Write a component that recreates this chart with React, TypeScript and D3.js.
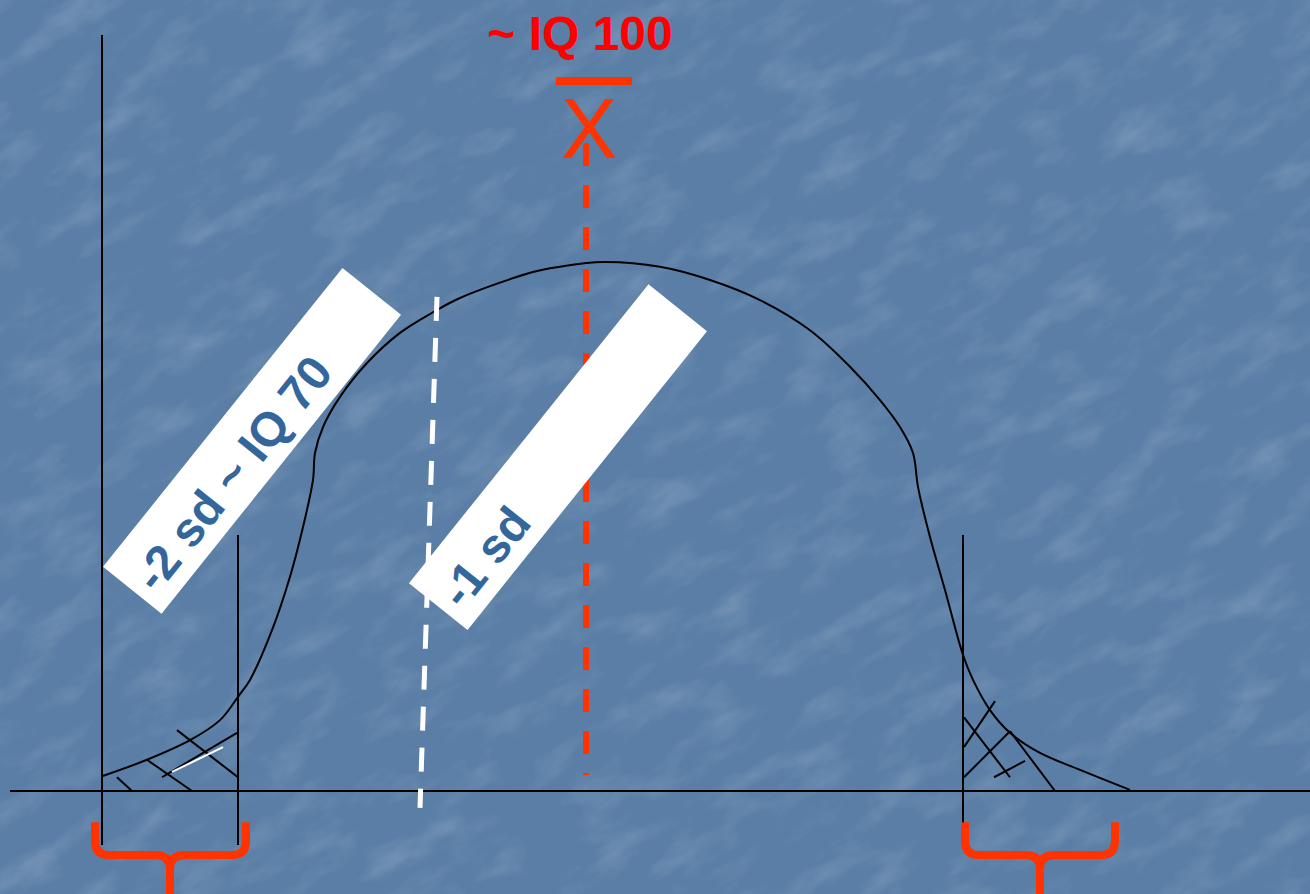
import React from "react";
import * as d3 from "d3";

// ---- data (abstract units: x 0..130 across, y 0..100 baseline→peak) ----
const curveX = [9.2, 13.7, 18.0, 21.0, 22.8, 24.0, 26.2, 28.0, 29.3, 30.3, 30.5, 31.3, 33.0, 35.7, 39.0, 42.3, 45.0, 52.3, 55.0, 59.3, 65.0, 70.0, 75.0, 80.0, 84.0, 87.0, 89.0, 90.3, 90.8, 92.0, 93.5, 95.3, 96.3, 98.0, 100.0, 103.0, 107.0, 112.0];
const curveY = [2.8, 5.9, 9.6, 13.4, 17.8, 21.0, 30.4, 40.5, 49.9, 58.8, 63.9, 68.8, 74.5, 80.9, 86.6, 90.5, 93.2, 98.1, 99.1, 100.0, 99.1, 96.6, 92.8, 87.1, 80.2, 73.9, 68.8, 63.9, 57.5, 48.0, 38.0, 25.7, 21.0, 15.3, 11.0, 7.2, 4.0, 0.2];

// vertical guide lines: [x, yTop, yBottom]
const guideX = [9.2, 22.8, 95.3];
const guideTop = [142.9, 48.4, 48.4];
const guideBottom = [-10.2, -10.2, -10.8];

// mean and -1 sd dashed markers
const meanLine = { x: 57.6, top: 122.5, bottom: 3.0 };
const sdLineX = [42.7, 41.0];
const sdLineY = [93.4, -3.2];

// hatch strokes in the tails: [x1, y1, x2, y2]
const hatchLeft = [
  [16.7, 11.5, 22.8, 2.6],
  [10.7, 2.6, 12.2, 0],
  [13.7, 5.9, 18.2, 0],
  [15.2, 2.6, 22.7, 11.0],
];
const hatchLeftWhite = [[16.2, 3.6, 21.3, 8.3]];
const hatchRight = [
  [95.4, 13.9, 100.0, 2.6],
  [95.4, 8.3, 98.5, 17.0],
  [95.4, 2.6, 100.0, 11.3],
  [98.4, 2.6, 101.5, 5.7],
  [100.0, 11.3, 104.5, 0],
];

// braces under tails: [left, centre, right]
const braces = [
  [8.5, 16.0, 23.6],
  [95.5, 103.0, 110.5],
];

// rotated labels: centre x, centre y, text
const labelCx = [24.2, 54.8];
const labelCy = [66.2, 63.1];
const labelText = ["-2 sd ~ IQ 70", "-1 sd"];

const W = 1310;
const H = 894;

export default function App() {
  const x = d3.scaleLinear().domain([0, 130]).range([10, 1310]);
  const y = d3.scaleLinear().domain([0, 100]).range([791, 262]);

  const pts: [number, number][] = curveX.map((v, i) => [v, curveY[i]]);
  const line = d3
    .line<[number, number]>()
    .x((d) => x(d[0]))
    .y((d) => y(d[1]))
    .curve(d3.curveCatmullRom.alpha(0.5));

  const bracePath = (b: number[]) => {
    const [l, c, r] = b.map((v) => x(v));
    const top = y(-5.9);
    const mid = y(-12.1);
    const tip = y(-19.5);
    const rad = 14;
    return [
      `M${l},${top}`,
      `L${l},${mid - rad}`,
      `Q${l},${mid} ${l + rad},${mid}`,
      `L${c - rad},${mid}`,
      `Q${c},${mid} ${c},${mid + rad}`,
      `L${c},${tip + 4}`,
      `M${c},${mid + rad}`,
      `Q${c},${mid} ${c + rad},${mid}`,
      `L${r - rad},${mid}`,
      `Q${r},${mid} ${r},${mid - rad}`,
      `L${r},${top}`,
    ].join(" ");
  };

  const red = "#ff3300";
  const boxLen = 383;
  const boxW = 75;
  const angle = -51.3;

  return (
    <svg
      width={W}
      height={H}
      style={{ position: "absolute", left: 0, top: 0, display: "block" }}
      xmlns="http://www.w3.org/2000/svg"
    >
      <defs>
        <filter id="tex" x="0" y="0" width="100%" height="100%">
          <feTurbulence type="fractalNoise" baseFrequency="0.015 0.035" numOctaves={4} seed={7} result="n" />
          <feColorMatrix
            type="matrix"
            values="0 0 0 0 1  0 0 0 0 1  0 0 0 0 1  0 0 0 1.6 -0.75"
          />
        </filter>
      </defs>
      <rect width={W} height={H} fill="#5a7ea6" />
      <g transform={`rotate(-30 ${W / 2} ${H / 2})`}>
        <rect x={-400} y={-500} width={W + 800} height={H + 1000} filter="url(#tex)" opacity={0.2} />
      </g>

      {/* axis */}
      <line x1={x(0)} x2={x(130)} y1={y(0)} y2={y(0)} stroke="#000" strokeWidth={2} />
      {guideX.map((gx, i) => (
        <line key={i} x1={x(gx)} x2={x(gx)} y1={y(guideTop[i])} y2={y(guideBottom[i])} stroke="#000" strokeWidth={2} />
      ))}

      {/* curve */}
      <path d={line(pts) || ""} fill="none" stroke="#000" strokeWidth={2} />

      {/* hatching */}
      {hatchLeft.concat(hatchRight).map((h, i) => (
        <line key={i} x1={x(h[0])} y1={y(h[1])} x2={x(h[2])} y2={y(h[3])} stroke="#000" strokeWidth={2} />
      ))}
      {hatchLeftWhite.map((h, i) => (
        <line key={i} x1={x(h[0])} y1={y(h[1])} x2={x(h[2])} y2={y(h[3])} stroke="#fff" strokeWidth={2} />
      ))}

      {/* mean dashed line */}
      <line
        x1={x(meanLine.x)}
        x2={x(meanLine.x)}
        y1={y(meanLine.top)}
        y2={y(meanLine.bottom)}
        stroke={red}
        strokeWidth={6}
        strokeDasharray="23 19"
      />
      {/* -1 sd white dashed line */}
      <line
        x1={x(sdLineX[0])}
        x2={x(sdLineX[1])}
        y1={y(sdLineY[0])}
        y2={y(sdLineY[1])}
        stroke="#fff"
        strokeWidth={5}
        strokeDasharray="24 17"
      />

      {/* labels in rotated white boxes */}
      {labelText.map((t, i) => (
        <g key={i} transform={`translate(${x(labelCx[i])},${y(labelCy[i])}) rotate(${angle})`}>
          <rect x={-boxLen / 2} y={-boxW / 2} width={boxLen} height={boxW} fill="#fff" />
          <text
            x={-boxLen / 2 + 12}
            y={22}
            fill="#33679c"
            fontFamily="Liberation Sans, Arial, sans-serif"
            fontWeight="bold"
            fontSize={48}
          >
            {t}
          </text>
        </g>
      ))}

      {/* mean symbol */}
      <text
        x={x(57)}
        y={50}
        textAnchor="middle"
        fill="#ff0000"
        fontFamily="Liberation Sans, Arial, sans-serif"
        fontWeight="bold"
        fontSize={48}
      >
        ~ IQ 100
      </text>
      <line x1={556} x2={632} y1={81} y2={81} stroke={red} strokeWidth={8} />
      <text
        x={x(57.9)}
        y={158}
        textAnchor="middle"
        fill={red}
        fontFamily="Liberation Sans, Arial, sans-serif"
        fontSize={85}
      >
        X
      </text>

      {/* braces */}
      {braces.map((b, i) => (
        <path key={i} d={bracePath(b)} fill="none" stroke={red} strokeWidth={8} strokeLinecap="butt" strokeLinejoin="round" />
      ))}
    </svg>
  );
}
